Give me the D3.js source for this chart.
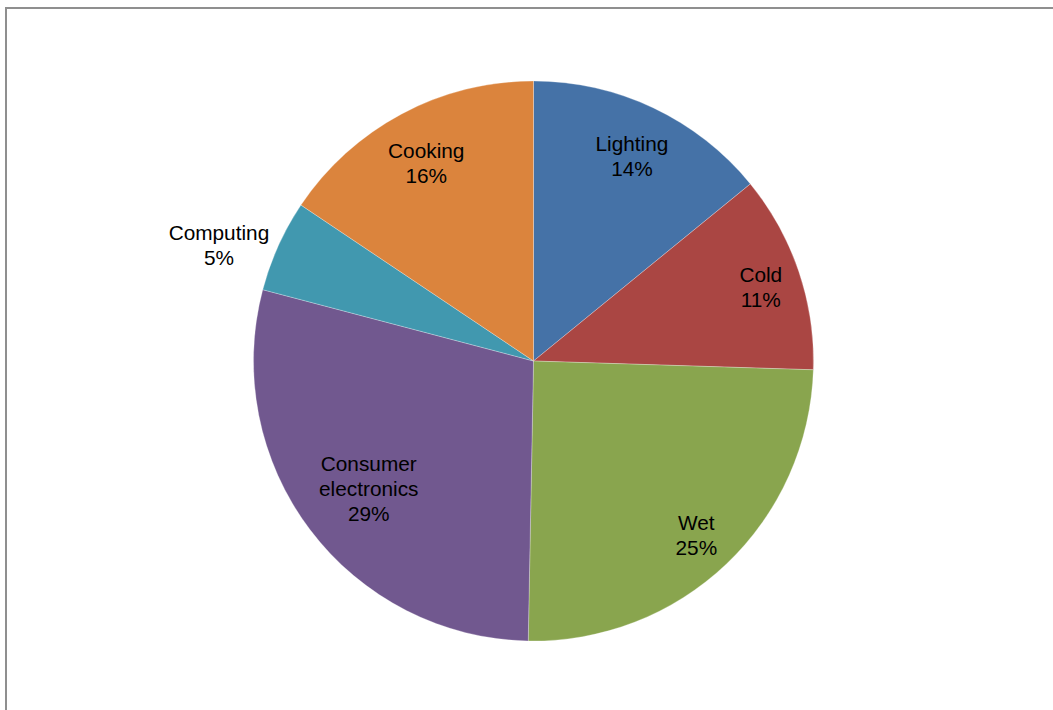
<!DOCTYPE html>
<html>
<head>
<meta charset="utf-8">
<script src="https://cdn.jsdelivr.net/npm/d3@7"></script>
<style>
  html, body { margin: 0; padding: 0; background: #ffffff; }
  svg { display: block; }
  text { font-family: "Liberation Sans", Arial, sans-serif; }
</style>
</head>
<body>
<svg id="chart" width="1053" height="710"></svg>
<script>
// Household electricity use by end-use category (share of total, %)
const categories = ["Lighting", "Cold", "Wet", "Consumer electronics", "Computing", "Cooking"];
const shares = [14.1, 11.4, 24.8, 28.8, 5.3, 15.6];
const sliceColors = ["#4572A7", "#AA4643", "#89A54E", "#71588F", "#4198AF", "#DB843D"];

// label lines per category (long names wrap onto two lines)
const labelLines = [["Lighting"], ["Cold"], ["Wet"], ["Consumer", "electronics"], ["Computing"], ["Cooking"]];

const W = 1053, H = 710;
const cx = 533.5, cy = 361, R = 280;
const fontSize = 20.8, lineH = 25;

const svg = d3.select("#chart");

// chart area frame
svg.append("rect")
  .attr("x", 6).attr("y", 8)
  .attr("width", W + 20).attr("height", H + 20)
  .attr("fill", "#ffffff")
  .attr("stroke", "#8f8f8f")
  .attr("stroke-width", 2);

const data = categories.map((c, i) => ({ name: c, value: shares[i], lines: labelLines[i], color: sliceColors[i] }));

const pie = d3.pie().sort(null).value(d => d.value).startAngle(0).endAngle(2 * Math.PI);
const arcs = pie(data);

const arc = d3.arc().innerRadius(0).outerRadius(R);
const g = svg.append("g").attr("transform", `translate(${cx},${cy})`);

g.selectAll("path.slice")
  .data(arcs)
  .enter().append("path")
  .attr("class", "slice")
  .attr("d", arc)
  .attr("fill", d => d.data.color)
  .attr("stroke", "rgba(255,255,255,0.45)")
  .attr("stroke-width", 0.6);

const pct = v => Math.round(v) + "%";

// Label placement: inside labels slide along the mid-angle ray until the
// box's outer corner is a fixed distance from the centre; narrow slices
// put their label just outside the rim, hugging it.
const cornerDist = R * 0.96;
const outsideGap = 10;

g.selectAll("text.label")
  .data(arcs)
  .enter().append("text")
  .attr("class", "label")
  .attr("text-anchor", "middle")
  .attr("font-size", fontSize)
  .attr("fill", "#000000")
  .each(function(d) {
    const t = d3.select(this);
    const lines = d.data.lines.concat([pct(d.data.value)]);
    lines.forEach(ln => t.append("tspan").text(ln));
    let w = 0;
    t.selectAll("tspan").each(function() { w = Math.max(w, this.getComputedTextLength()); });
    const hw = w / 2, hh = lines.length * lineH / 2;

    const mid = (d.startAngle + d.endAngle) / 2;
    const ux = Math.sin(mid), uy = -Math.cos(mid);
    const narrow = (d.endAngle - d.startAngle) < 0.08 * 2 * Math.PI;
    let x, y;
    if (narrow) {
      const px = ux * (R + outsideGap), py = uy * (R + outsideGap);
      x = px + Math.sign(ux) * hw;
      y = py;
    } else {
      const kx = Math.sign(ux) * hw, ky = Math.sign(uy) * hh;
      // solve |t*u + k| = cornerDist for t
      const b = 2 * (ux * kx + uy * ky);
      const c = kx * kx + ky * ky - cornerDist * cornerDist;
      const s = (-b + Math.sqrt(b * b - 4 * c)) / 2;
      x = ux * s; y = uy * s;
    }
    const top = y - (lines.length - 1) * lineH / 2;
    t.selectAll("tspan")
      .attr("x", x)
      .attr("y", (_, i) => top + i * lineH)
      .attr("dy", "0.5em");
  });
</script>
</body>
</html>
